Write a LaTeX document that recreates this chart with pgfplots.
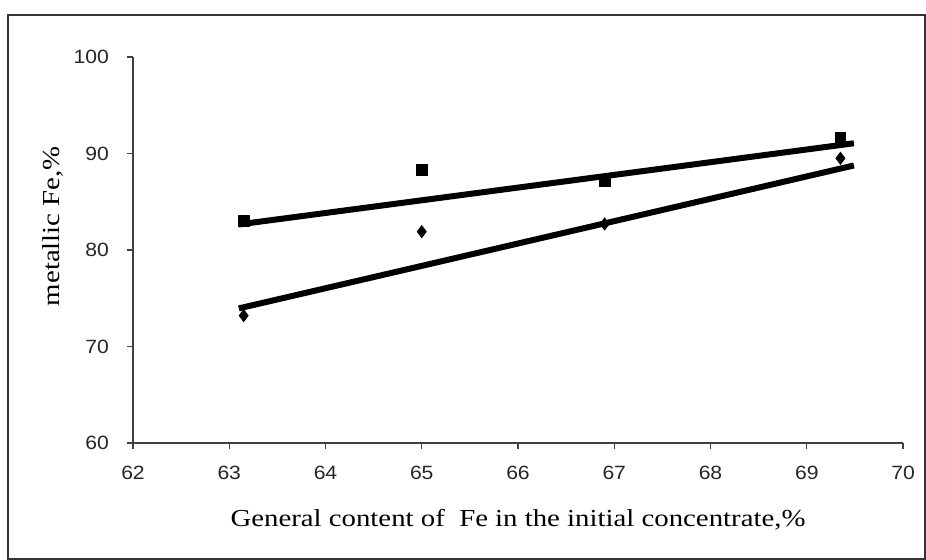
\documentclass[border=0pt]{standalone}
\usepackage{fontspec}
\setmainfont{Liberation Sans}
\newfontfamily\tnr[FakeStretch=1.18]{Liberation Serif}
\newfontfamily\tck[FakeStretch=1.1]{Liberation Sans}
\usepackage{pgfplots}
\pgfplotsset{compat=1.18}

\begin{document}
\begin{tikzpicture}
  \begin{axis}[
      name=ax,
      scale only axis,
      width=385pt, height=193pt,
      xmin=62, xmax=70, ymin=60, ymax=100,
      xtick={62,63,...,70},
      ytick={60,70,...,100},
      axis x line=bottom, axis y line=left,
      axis line style={-, color=black!75, line width=0.7pt},
      tick style={color=black!75, line width=0.7pt},
      tick align=outside,
      major tick length=3pt,
      /pgf/number format/assume math mode=true,
      ticklabel style={font=\tck\fontsize{9.6}{11}\selectfont, text=black!85},
      xticklabel style={yshift=-5.2pt},
      yticklabel style={xshift=-5.5pt},
      clip=false,
      every axis x label/.style={at={(rel axis cs:0.5,0)}, anchor=base, yshift=-42pt},
      every axis y label/.style={at={(rel axis cs:0,0.562)}, xshift=-36.5pt, rotate=90, anchor=base},
      label style={font=\tnr\fontsize{12.2}{14}\selectfont},
      xlabel={General content of \ Fe in the initial concentrate,\%},
      ylabel={metallic Fe,\%},
    ]

    % square series
    \addplot[only marks, mark=square*, mark size=2.7pt, black]
    coordinates {
        (63.15,83.0) (65.0,88.3) (66.9,87.1) (69.35,91.6)
      };

    % diamond series
    \addplot[only marks, mark=diamond*, mark size=3pt, black]
    coordinates {
        (63.15,73.2) (65.0,81.9) (66.9,82.7) (69.35,89.5)
      };

    % trend lines
    \addplot[black, line width=3pt, no marks]
    coordinates { (63.10,82.65) (69.49,91.06) };

    \addplot[black, line width=3pt, no marks]
    coordinates { (63.10,73.95) (69.49,88.76) };

  \end{axis}

  \draw[black!80, line width=0.6pt]
    ([shift={(-62.5pt,-58pt)}]ax.south west) rectangle ([shift={(396pt,214pt)}]ax.south west);
  \path[use as bounding box]
    ([shift={(-66.5pt,-58.5pt)}]ax.south west) rectangle ([shift={(396.5pt,221.5pt)}]ax.south west);
\end{tikzpicture}
\end{document}
